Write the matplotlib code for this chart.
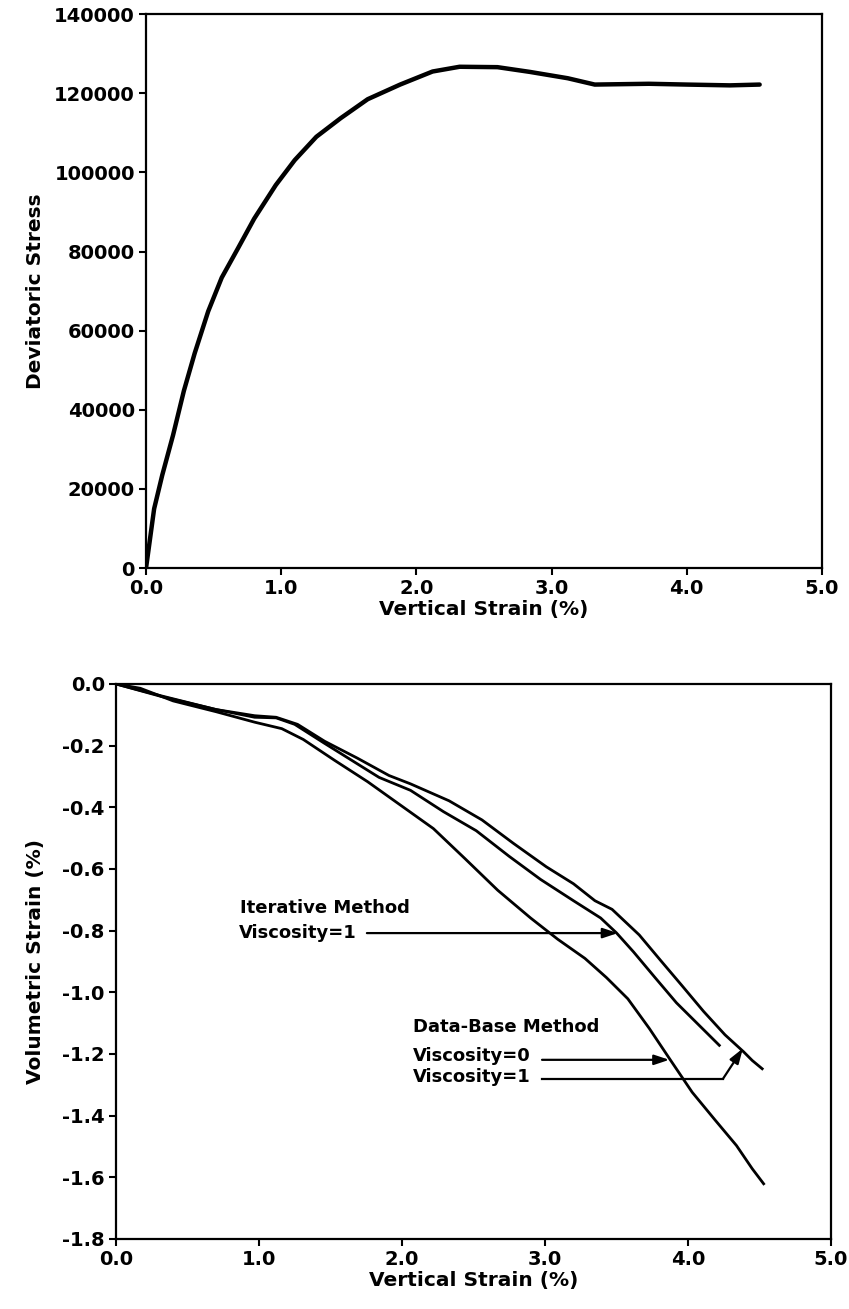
"""
Deviatoric stress and volumetric strain vs. vertical strain.

Two stacked panels: stress-strain curve on top, volumetric strain for the
data-base (viscosity 0 / 1) and iterative (viscosity 1) methods below.
"""

import matplotlib
matplotlib.use("Agg")
import matplotlib.pyplot as plt

plt.rcParams["font.family"] = ["DejaVu Sans"]
plt.rcParams["font.weight"] = "bold"

# ---- top panel: deviatoric stress ----
stress_strain = [0.0, 0.06, 0.12, 0.20, 0.28, 0.36, 0.46, 0.56, 0.68, 0.80,
                 0.96, 1.10, 1.26, 1.44, 1.64, 1.88, 2.12, 2.32, 2.60, 2.84,
                 3.12, 3.32, 3.72, 4.00, 4.32, 4.54]
deviatoric_stress = [0, 15000, 23500, 33600, 44800, 54300, 64900, 73400,
                     80800, 88300, 96800, 103100, 109000, 113700, 118500,
                     122200, 125500, 126700, 126600, 125400, 123800, 122200,
                     122400, 122200, 122000, 122200]

# ---- bottom panel: volumetric strain ----
db_v0_x = [0.0, 0.17, 0.40, 0.70, 0.97, 1.16, 1.31, 1.53, 1.76, 1.99, 2.22,
           2.44, 2.67, 2.90, 3.09, 3.28, 3.43, 3.58, 3.73, 3.88, 4.03, 4.19,
           4.34, 4.45, 4.53]
db_v0_y = [0.0, -0.014, -0.055, -0.090, -0.124, -0.145, -0.180, -0.248,
           -0.317, -0.393, -0.469, -0.566, -0.669, -0.759, -0.828, -0.890,
           -0.952, -1.021, -1.117, -1.221, -1.324, -1.414, -1.497, -1.572,
           -1.621]

iter_v1_x = [0.0, 0.32, 0.70, 0.97, 1.12, 1.25, 1.46, 1.65, 1.84, 2.06, 2.29,
             2.52, 2.75, 2.97, 3.20, 3.39, 3.50, 3.62, 3.77, 3.92, 4.07, 4.22]
iter_v1_y = [0.0, -0.041, -0.083, -0.108, -0.110, -0.131, -0.193, -0.248,
             -0.303, -0.345, -0.414, -0.476, -0.559, -0.634, -0.703, -0.759,
             -0.807, -0.869, -0.952, -1.034, -1.103, -1.172]

db_v1_x = [0.0, 0.32, 0.70, 0.97, 1.12, 1.27, 1.46, 1.69, 1.91, 2.06, 2.33,
           2.56, 2.78, 3.01, 3.20, 3.35, 3.47, 3.66, 3.81, 3.96, 4.11, 4.26,
           4.39, 4.45, 4.52]
db_v1_y = [0.0, -0.039, -0.083, -0.103, -0.108, -0.131, -0.186, -0.241,
           -0.297, -0.324, -0.379, -0.441, -0.517, -0.593, -0.648, -0.703,
           -0.731, -0.814, -0.897, -0.979, -1.062, -1.138, -1.193, -1.221,
           -1.248]

# annotation anchors (data coords)
iter_text_xy = (0.87, -0.726)
iter_label_xy = (0.86, -0.808)
iter_arrow = [(1.755, -0.808), (3.51, -0.808)]

db_text_xy = (2.077, -1.112)
db_v0_label_xy = (2.077, -1.205)
db_v0_arrow = [(2.98, -1.219), (3.87, -1.219)]
db_v1_label_xy = (2.077, -1.276)
db_v1_line = [(2.98, 4.245), (-1.281, -1.281)]
db_v1_arrow = [(4.245, -1.281), (4.385, -1.182)]

TICK_FS = 14
LABEL_FS = 14.5
NOTE_FS = 13


def style_axes(ax):
    for sp in ax.spines.values():
        sp.set_linewidth(1.6)
    ax.tick_params(direction="out", length=5, width=1.5, pad=3,
                   labelsize=TICK_FS)
    for lab in ax.get_xticklabels() + ax.get_yticklabels():
        lab.set_fontweight("bold")


fig = plt.figure(figsize=(8.49, 13.09), dpi=100)

# top panel
ax1 = fig.add_axes([0.172, 0.566, 0.796, 0.4232])
ax1.plot(stress_strain, deviatoric_stress, color="black", lw=3.2,
         solid_capstyle="round")
ax1.set_xlim(0, 5)
ax1.set_ylim(0, 140000)
ax1.set_xticks([0, 1, 2, 3, 4, 5])
ax1.set_xticklabels(["0.0", "1.0", "2.0", "3.0", "4.0", "5.0"])
ax1.set_yticks(range(0, 140001, 20000))
ax1.set_xlabel("Vertical Strain (%)", fontsize=LABEL_FS, fontweight="bold")
ax1.set_ylabel("Deviatoric Stress", fontsize=LABEL_FS, fontweight="bold")
ax1.xaxis.set_label_coords(0.5, -0.058)
ax1.yaxis.set_label_coords(-0.149, 0.5)
style_axes(ax1)

# bottom panel
ax2 = fig.add_axes([0.1366, 0.0535, 0.842, 0.424])
for xs, ys in [(db_v0_x, db_v0_y), (iter_v1_x, iter_v1_y), (db_v1_x, db_v1_y)]:
    ax2.plot(xs, ys, color="black", lw=2.0)
ax2.set_xlim(0, 5)
ax2.set_ylim(-1.8, 0)
ax2.set_xticks([0, 1, 2, 3, 4, 5])
ax2.set_xticklabels(["0.0", "1.0", "2.0", "3.0", "4.0", "5.0"])
ax2.set_yticks([0.0, -0.2, -0.4, -0.6, -0.8, -1.0, -1.2, -1.4, -1.6, -1.8])
ax2.set_yticklabels(["0.0", "-0.2", "-0.4", "-0.6", "-0.8", "-1.0", "-1.2",
                     "-1.4", "-1.6", "-1.8"])
ax2.set_xlabel("Vertical Strain (%)", fontsize=LABEL_FS, fontweight="bold")
ax2.set_ylabel("Volumetric Strain (%)", fontsize=LABEL_FS, fontweight="bold")
ax2.xaxis.set_label_coords(0.5, -0.058)
ax2.yaxis.set_label_coords(-0.099, 0.5)
style_axes(ax2)

arrow_kw = dict(arrowstyle="-|>,head_length=0.9,head_width=0.3",
                color="black", lw=1.6, shrinkA=0, shrinkB=0)

ax2.text(*iter_text_xy, "Iterative Method", fontsize=NOTE_FS,
         fontweight="bold", va="center", ha="left")
ax2.text(*iter_label_xy, "Viscosity=1", fontsize=NOTE_FS,
         fontweight="bold", va="center", ha="left")
ax2.annotate("", xy=iter_arrow[1], xytext=iter_arrow[0], arrowprops=arrow_kw)

ax2.text(*db_text_xy, "Data-Base Method", fontsize=NOTE_FS,
         fontweight="bold", va="center", ha="left")
ax2.text(*db_v0_label_xy, "Viscosity=0", fontsize=NOTE_FS,
         fontweight="bold", va="center", ha="left")
ax2.annotate("", xy=db_v0_arrow[1], xytext=db_v0_arrow[0], arrowprops=arrow_kw)
ax2.text(*db_v1_label_xy, "Viscosity=1", fontsize=NOTE_FS,
         fontweight="bold", va="center", ha="left")
ax2.plot(db_v1_line[0], db_v1_line[1], color="black", lw=1.6)
ax2.annotate("", xy=db_v1_arrow[1], xytext=db_v1_arrow[0], arrowprops=arrow_kw)

fig.savefig("out.png", dpi=100)
